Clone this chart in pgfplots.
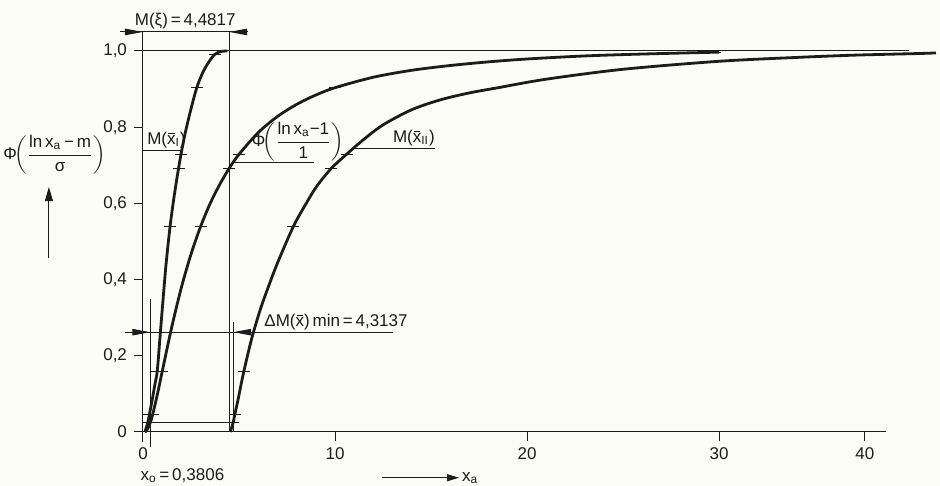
\documentclass[border=0pt]{standalone}
\usepackage{fontspec}
\setmainfont{Liberation Sans}
\usepackage{amsmath}
\usepackage{pgfplots}
\pgfplotsset{compat=1.18}
\usetikzlibrary{arrows.meta}
\definecolor{bg}{RGB}{252,252,246}
\definecolor{ink}{RGB}{28,28,28}
\newcommand\xb{\ooalign{x\cr\hfil\raisebox{0.6em}{\rule{0.38em}{0.35pt}}\hfil\cr}}
\begin{document}
\begin{tikzpicture}[font=\fontsize{8.5}{10}\selectfont, >={Triangle[length=9pt,width=3.2pt]}]
\fill[bg] (-71.5pt,-27pt) rectangle ++(470pt,243pt);
\useasboundingbox (-71.5pt,-27pt) rectangle ++(470pt,243pt);
\begin{axis}[
  x=9.6pt, y=190.5pt,
  xmin=0, xmax=38.7, ymin=0, ymax=1.05,
  axis lines*=left,
  axis line style={ink, line width=0.5pt},
  clip=false,
  tick align=outside,
  major tick length=4.5pt,
  tick style={ink, line width=0.5pt},
  xtick={0,10,20,30,37.6},
  xticklabels={0,10,20,30,40},
  ytick={0,0.2,0.4,0.6,0.8,1.0},
  yticklabels={0,{0,2},{0,4},{0,6},{0,8},{1,0}},
  every tick label/.append style={text=ink},
]
% middle curve Phi((ln x - 1)/1)
\addplot[ink, line width=1.4pt, smooth, tension=0.5] coordinates {
(0.1,0.0005) (0.2,0.0045) (0.3806,0.0247) (0.5,0.0452) (0.75,0.0989) (1,0.1587)
(1.5,0.276) (2,0.3795) (2.5,0.4665) (3,0.5393) (3.5,0.600) (4,0.650) (4.4817,0.6915)
(5,0.7288) (6,0.7858) (7,0.828) (8,0.8598) (9,0.8844) (10,0.9037) (12,0.9312)
(14,0.9494) (16,0.9619) (18,0.9715) (20,0.979) (23,0.987) (26,0.992) (30,0.997)
};
\addplot[ink, only marks, mark=-, mark size=3pt, mark options={line width=0.6pt}] coordinates {
(0.3806,0.0247) (0.5,0.0452) (1,0.1587) (3,0.5393) (4.4817,0.6915) (5,0.7288) (10,0.9037) (29.8,0.997)
};
% curve I
\addplot[ink, line width=1.4pt, smooth, tension=0.5] coordinates {
(0.1,0) (0.25,0.0247) (0.33,0.0452) (0.5,0.09) (0.62,0.125) (0.74,0.1587) (0.88,0.245)
(1.04,0.345) (1.2,0.44) (1.41,0.5393) (1.62,0.618) (1.85,0.6915) (1.98,0.7288)
(2.2,0.785) (2.5,0.848) (2.8,0.9037) (3.1,0.942) (3.4,0.969) (3.75,0.9918) (4.1,0.999) (4.4,1.0)
};
\addplot[ink, only marks, mark=-, mark size=3pt, mark options={line width=0.6pt}] coordinates {
(0.25,0.0247) (0.33,0.0452) (0.74,0.1587) (1.41,0.5393) (1.85,0.6915) (1.98,0.7288) (2.8,0.9037) (3.75,0.9918)
};
% curve II
\addplot[ink, line width=1.4pt, smooth, tension=0.5] coordinates {
(4.55,0) (4.6943,0.0247) (4.78,0.0452) (5.0,0.097) (5.25,0.1587) (5.66,0.245) (6.1,0.32)
(6.5,0.377) (7.0,0.443) (7.83,0.5393) (8.5,0.600) (9.05,0.645) (9.8,0.6915) (10.6,0.7288)
(11.5,0.768) (12.5,0.806) (14,0.846) (15.5,0.872) (17,0.890) (18.5,0.9037) (21,0.926)
(25,0.952) (30,0.973) (34,0.983) (37,0.989) (40.5,0.9935) (41.3,0.995)
};
\addplot[ink, only marks, mark=-, mark size=3pt, mark options={line width=0.6pt}] coordinates {
(4.6943,0.0247) (4.78,0.0452) (5.25,0.1587) (7.83,0.5393) (9.8,0.6915) (10.6,0.7288) (18.5,0.9037) (40.5,0.9935)
};
% construction lines
\begin{scope}[ink, line width=0.5pt]
\draw (axis cs:-0.3,0) -- (axis cs:0,0);
\draw (axis cs:0,-0.025) -- (axis cs:0,0);
\draw (axis cs:0,1) -- (axis cs:39.9,1);
\draw (axis cs:4.4817,0) -- (axis cs:4.4817,1.05);
\draw (axis cs:0.3806,-0.04) -- (axis cs:0.3806,0.35);
\draw (axis cs:4.6943,0) -- (axis cs:4.6943,0.29);
\draw (axis cs:0.3806,0.0247) -- (axis cs:4.6943,0.0247);
\draw (axis cs:-1.2,1.05) -- (axis cs:5.47,1.05);
\draw[->] (axis cs:-1.2,1.05) -- (axis cs:0,1.05);
\draw[->] (axis cs:5.47,1.05) -- (axis cs:4.4817,1.05);
\draw (axis cs:-0.95,0.262) -- (axis cs:13,0.262);
\draw[->] (axis cs:-0.95,0.262) -- (axis cs:0.3806,0.262);
\draw[->] (axis cs:5.9,0.262) -- (axis cs:4.6943,0.262);
\draw (axis cs:0,0.74) -- (axis cs:2.08,0.74);
\draw (axis cs:4.7,0.707) -- (axis cs:8.9,0.707);
\draw (axis cs:11,0.745) -- (axis cs:15.2,0.745);
\draw[-{Triangle[length=7pt,width=4pt]}] (axis cs:-4.9,0.457) -- (axis cs:-4.9,0.643);
\draw[-{Triangle[length=6pt,width=3.5pt]}] (axis cs:12.45,-0.12) -- (axis cs:16.46,-0.12);
\end{scope}
% texts
\begin{scope}[text=ink]
\node[anchor=base] at (axis cs:2.2,1.068) {M(ξ)\,=\,4,4817};
\node[anchor=south west, inner sep=1pt] at (axis cs:0.1,0.74) {M(\xb\textsubscript{I})};
\node[anchor=south west, inner sep=0.5pt] at (axis cs:5.6,0.707) {Φ\!$\left(\dfrac{\text{ln\,x\textsubscript{a}−1}}{\text{1}}\right)$};
\node[anchor=south west, inner sep=1pt] at (axis cs:12.9,0.745) {M(\xb\textsubscript{II})};
\node[anchor=south west, inner sep=1pt] at (axis cs:6.2,0.262) {ΔM(\xb)\,min\,=\,4,3137};
\node[anchor=west, inner sep=0pt] at (axis cs:-0.15,-0.115) {x\textsubscript{o}\,=\,0,3806};
\node[inner sep=0pt] at (axis cs:-4.6,0.727) {Φ\!$\left(\dfrac{\text{ln\,x\textsubscript{a}\,−\,m}}{\text{σ}}\right)$};
\node[anchor=west, inner sep=1pt] at (axis cs:16.5,-0.12) {x\textsubscript{a}};
\end{scope}
\end{axis}
\end{tikzpicture}
\end{document}
